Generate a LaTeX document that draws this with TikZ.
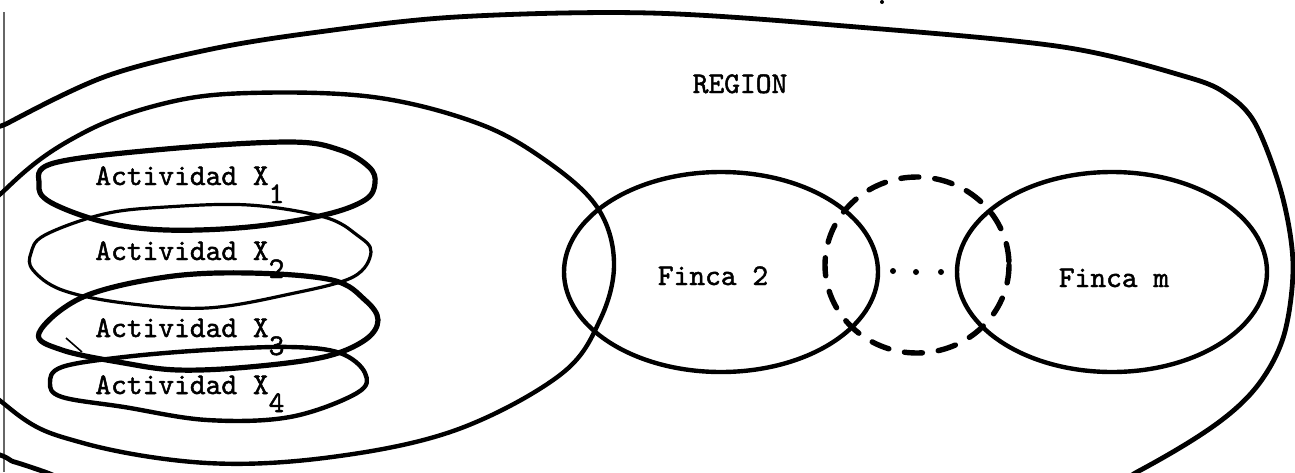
\documentclass[tikz,border=0pt]{standalone}
\usepackage{fontspec}
\newfontfamily\typer{lmmono10-regular.otf}[FakeBold=1.6]
\begin{document}
\begin{tikzpicture}[x=0.5pt,y=-0.5pt,
  ink/.style={line width=2.2pt, line join=round, line cap=round},
  lightink/.style={line width=1.6pt, line join=round, line cap=round},
  dashring/.style={line width=2.7pt, dash pattern=on 9pt off 8pt, line cap=round},
  lbl/.style={font=\fontsize{15}{18}\selectfont\typer, inner sep=0pt}]
\useasboundingbox (0,0) rectangle (1295,472);
\clip (0,0) rectangle (1295,472);

% page edge
\draw[black!60, line width=0.7pt] (4,12) -- (4,472);

% region boundary
\draw[ink, line width=2.4pt] plot[smooth cycle, tension=0.55] coordinates {
  (-25,145) (8,123) (104,77) (207,50) (311,33) (456,17) (650,13) (857,27)
  (1063,47) (1187,77) (1228,95) (1256,125) (1282,195) (1293,265) (1284,335)
  (1258,385) (1215,425) (1137,472) (1000,540) (300,560) (45,472) (7,458)
  (-25,430) (-45,290)};

% first farm
\draw[ink] plot[smooth cycle, tension=0.6] coordinates {
  (8,187) (83,133) (166,103) (249,93) (373,97) (477,123) (545,160) (597,207)
  (614,262) (600,320) (560,375) (456,430) (332,457) (207,463) (83,443)
  (8,407) (-90,300)};

% activities
\draw[ink, line width=2.6pt] plot[smooth cycle, tension=0.6] coordinates {
  (39,184) (54,163) (166,149) (290,142) (340,150) (369,167) (375,183)
  (365,200) (324,215) (249,227) (166,230) (104,222) (50,202)};
\draw[lightink] plot[smooth cycle, tension=0.6] coordinates {
  (31,253) (45,235) (104,214) (166,207) (249,205) (324,217) (357,235)
  (371,252) (353,277) (290,294) (207,308) (124,303) (62,290) (33,270)};
\draw[ink, line width=2.6pt] plot[smooth cycle, tension=0.6] coordinates {
  (39,333) (83,297) (166,277) (249,273) (332,280) (365,300) (378,320)
  (365,340) (324,357) (249,367) (178,370) (124,363) (62,350)};
\draw[ink] plot[smooth cycle, tension=0.6] coordinates {
  (50,383) (62,367) (124,357) (207,350) (290,347) (340,353) (365,373)
  (357,393) (290,417) (207,420) (124,407) (62,397)};
\draw[line width=0.8pt] (66,338) -- (82,352);

% further farms
\draw[ink] (721,272) ellipse [x radius=157, y radius=100];
\draw[ink] (1112,272) ellipse [x radius=155, y radius=100];
\draw[dashring] (917,265) ellipse [x radius=92, y radius=88];

% ellipsis between farms
\fill (893,271) circle [radius=3];
\fill (916,272) circle [radius=3];
\fill (941,272) circle [radius=3];
\fill (882,2) circle [radius=2];

% labels
\node[lbl, anchor=base] (region) at (740,93) {REGION};
\node[lbl, anchor=base west] (act1) at (95,185) {Actividad X\raisebox{-9pt}{1}};
\node[lbl, anchor=base west] (act2) at (95,260) {Actividad X\raisebox{-9pt}{2}};
\node[lbl, anchor=base west] (act3) at (95,337) {Actividad X\raisebox{-9pt}{3}};
\node[lbl, anchor=base west] (act4) at (95,394) {Actividad X\raisebox{-9pt}{4}};
\node[lbl, anchor=base] (finca2) at (713,285) {Finca 2};
\node[lbl, anchor=base] (fincam) at (1114,287) {Finca m};
\end{tikzpicture}
\end{document}
